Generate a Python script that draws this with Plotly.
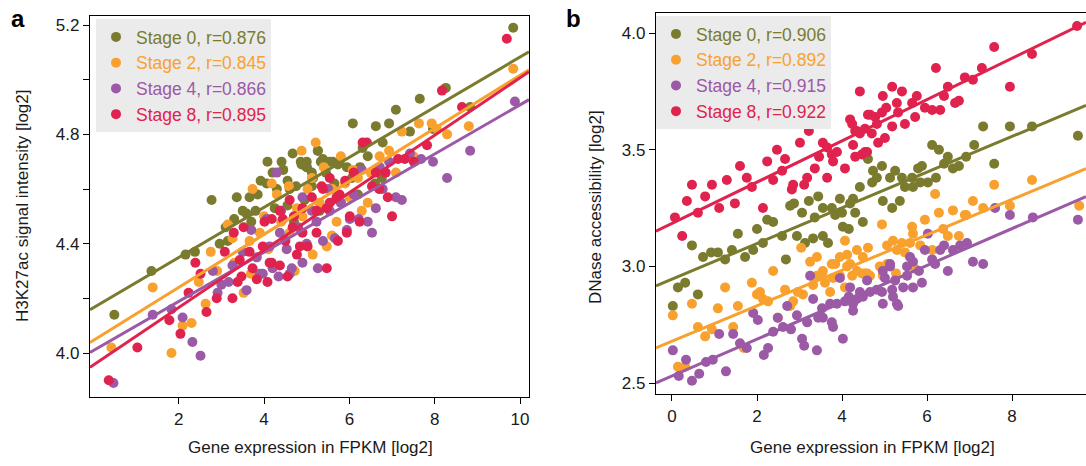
import plotly.graph_objects as go

# ---------------- data: panel a (H3K27ac vs expression) ----------------
a0_x = [0.49,1.36,2.16,2.38,2.77,3.10,3.36,3.50,3.66,3.80,3.92,4.08,4.41,4.20,4.55,4.67,4.86,5.00,5.26,5.33,5.54,5.73,4.25,4.55,5.00,4.60,4.06,3.59,2.96,3.15,
        8.26,7.65,7.09,6.08,6.62,6.93,7.42,7.96,8.83,9.84,5.26,5.38,5.61,5.77,5.94,6.31,6.43,6.78,5.12,5.00,6.06,6.76,5.12,4.88,5.30,5.80,6.20,4.70,6.60,
        3.30,3.85,4.30,4.45,4.75,5.15,5.45,5.65,6.25,3.70,4.95]
a0_y = [4.14,4.30,4.36,4.37,4.56,4.46,4.57,4.52,4.57,4.52,4.63,4.70,4.70,4.66,4.63,4.73,4.70,4.70,4.74,4.70,4.70,4.69,4.53,4.54,4.68,4.60,4.62,4.51,4.40,4.41,
        4.97,4.93,4.89,4.84,4.83,4.84,4.81,4.82,4.90,5.19,4.74,4.71,4.70,4.70,4.68,4.75,4.72,4.77,4.66,4.68,4.64,4.64,4.61,4.69,4.52,4.55,4.58,4.48,4.62,
        4.49,4.58,4.60,4.67,4.61,4.64,4.66,4.62,4.68,4.48,4.56]

a2_x = [0.42,1.39,1.83,2.09,2.30,2.63,2.47,3.52,3.69,5.14,4.72,9.84,8.80,8.29,7.93,7.63,7.23,6.93,6.71,7.09,6.43,6.29,6.08,5.80,5.21,4.88,5.59,5.12,
        3.73,4.18,3.15,2.75,3.26,3.66,5.47,5.70,4.77,4.30,5.02,4.58,5.40,5.60,5.90,6.20,6.50,4.00,4.40,3.90,4.60,4.90,5.30,6.00,6.70,3.30,2.90,4.10,7.50,8.05]
a2_y = [4.02,4.24,4.00,4.10,4.11,4.18,4.26,4.22,4.29,4.36,4.30,5.04,4.83,4.80,4.84,4.84,4.81,4.74,4.72,4.66,4.55,4.52,4.67,4.72,4.77,4.74,4.43,4.64,
        4.60,4.62,4.47,4.37,4.42,4.41,4.39,4.48,4.53,4.58,4.60,4.61,4.68,4.60,4.62,4.64,4.66,4.50,4.48,4.44,4.44,4.50,4.55,4.57,4.60,4.33,4.30,4.38,4.72,4.82]

a4_x = [0.47,1.39,1.83,2.09,2.32,2.51,2.91,3.00,3.17,3.59,3.90,4.20,4.34,4.65,4.90,5.26,3.26,2.80,
        9.88,8.83,8.29,7.96,7.68,7.42,7.23,7.09,6.78,6.71,6.93,6.62,6.53,6.43,6.22,6.01,5.94,6.29,
        4.30,4.90,5.12,5.54,5.23,4.37,4.53,4.13,3.83,4.06,4.60,3.97,5.38,5.66,3.50,4.80,5.00,5.80,6.10,3.70,4.40,5.50]
a4_y = [3.89,4.14,4.16,4.13,4.04,3.99,4.22,4.25,4.26,4.23,4.29,4.31,4.28,4.31,4.33,4.31,4.32,4.30,
        4.92,4.74,4.64,4.70,4.71,4.73,4.56,4.57,4.60,4.68,4.70,4.53,4.44,4.48,4.49,4.49,4.45,4.67,
        4.66,4.57,4.52,4.52,4.48,4.44,4.38,4.39,4.35,4.49,4.29,4.29,4.41,4.42,4.37,4.46,4.40,4.55,4.58,4.45,4.52,4.60]

a8_x = [0.36,1.03,1.78,2.04,2.23,2.39,2.51,2.65,2.89,3.26,3.38,3.47,3.83,4.08,4.13,4.37,4.55,4.77,5.47,3.08,3.73,
        3.29,3.52,3.66,3.97,4.01,4.18,4.44,4.37,4.60,4.67,4.90,5.02,4.84,5.23,5.38,5.54,5.47,5.70,4.18,3.43,
        9.69,8.17,8.64,7.82,7.51,7.30,7.14,6.85,6.62,6.41,6.31,6.53,6.70,7.00,6.24,5.94,5.77,5.54,5.35,5.12,4.90,6.01,5.23,5.73,
        5.90,6.10,4.50,4.70,6.90]
a8_y = [3.90,4.02,4.12,4.07,4.22,4.33,4.29,4.15,4.20,4.20,4.26,4.28,4.27,4.26,4.33,4.32,4.28,4.36,4.31,4.37,4.31,
        4.44,4.46,4.37,4.39,4.48,4.49,4.49,4.52,4.56,4.46,4.44,4.39,4.39,4.52,4.60,4.64,4.53,4.57,4.33,4.34,
        5.15,4.96,4.90,4.76,4.70,4.71,4.71,4.66,4.66,4.77,4.77,4.61,4.60,4.50,4.48,4.44,4.58,4.55,4.61,4.57,4.53,4.50,4.44,4.41,
        4.63,4.66,4.41,4.50,4.57]

# ---------------- data: panel b (DNase vs expression) ----------------
b0_x = [0.02,0.14,0.31,0.61,0.47,0.73,0.92,1.08,1.25,1.41,1.55,1.72,1.91,2.00,2.14,2.24,2.38,2.59,2.68,2.78,2.87,2.94,3.06,3.13,3.22,3.32,3.36,3.44,3.55,3.55,
        3.67,3.76,3.84,3.95,4.00,4.02,4.16,4.19,4.31,4.42,4.49,4.61,4.73,4.71,4.82,4.94,4.96,5.13,5.25,5.18,5.36,5.41,5.48,5.65,5.67,5.79,5.88,5.84,6.02,6.12,
        6.21,6.28,6.40,6.49,6.61,6.75,6.92,7.11,7.32,7.58,7.95,8.47,9.55,4.26]
b0_y = [2.83,2.91,2.93,2.88,3.09,3.04,3.06,3.06,3.03,3.07,3.14,3.04,3.07,3.16,3.10,3.20,3.19,3.13,3.03,3.26,3.27,3.13,3.23,3.10,3.28,3.12,3.21,3.30,3.25,3.13,
        3.10,3.25,3.22,3.29,3.23,3.17,3.16,3.27,3.23,3.34,3.19,3.46,3.41,3.36,3.38,3.43,3.28,3.38,3.41,3.25,3.28,3.38,3.34,3.38,3.34,3.42,3.43,3.36,3.36,3.52,
        3.38,3.50,3.44,3.47,3.42,3.43,3.47,3.52,3.60,3.44,3.60,3.60,3.56,3.29]

b2_x = [0.02,0.14,0.31,0.47,0.61,0.78,0.94,1.08,1.25,1.44,1.55,1.69,1.88,2.00,2.14,2.26,2.38,2.49,2.66,2.85,2.96,3.08,3.25,3.32,3.41,3.53,3.60,3.72,3.79,3.84,
        3.95,4.07,4.12,4.24,4.35,4.47,4.59,4.66,4.89,4.96,5.27,2.78,3.04,3.41,3.55,3.76,3.95,4.12,4.19,4.35,4.49,4.61,4.54,2.07,
        4.94,5.06,5.20,5.29,5.41,5.48,5.60,5.65,5.67,5.84,5.95,6.12,6.28,6.38,6.49,6.61,6.75,6.92,7.08,7.32,7.95,9.58,5.06,5.72,6.19,6.89,7.58,8.47,4.07]
b2_y = [2.79,2.57,2.57,2.84,2.74,2.70,2.73,2.82,2.91,2.74,2.83,2.65,2.93,2.88,2.86,2.85,2.98,2.78,2.90,2.85,2.89,2.88,3.02,2.92,2.96,2.97,2.93,2.89,2.95,3.01,
        2.96,2.91,3.00,2.96,2.98,2.97,2.97,2.96,3.00,2.96,2.97,2.83,3.08,3.04,2.98,3.01,3.04,3.05,3.01,3.07,3.04,3.08,2.97,2.89,
        3.18,3.09,3.11,3.07,3.10,3.06,3.10,3.17,3.14,3.09,3.20,3.07,3.23,3.16,3.13,3.24,3.13,3.22,3.28,3.25,3.26,3.26,3.01,2.99,3.31,3.22,3.35,3.37,3.11]

b4_x = [0.02,0.16,0.33,0.47,0.64,0.80,0.96,1.11,1.27,1.44,1.60,1.76,1.91,2.02,2.16,2.26,2.38,2.49,2.61,2.71,2.80,2.94,3.06,3.11,3.18,3.25,3.32,3.41,3.44,3.53,
        3.55,3.72,3.76,3.79,3.88,3.95,4.02,4.07,4.16,4.19,4.26,4.35,4.42,4.49,4.59,4.66,4.82,4.94,4.96,5.13,5.20,5.29,5.01,4.26,
        6.02,6.40,6.31,6.61,6.78,6.94,7.08,7.32,7.60,7.95,8.49,9.55,6.49,6.12,5.95,5.67,5.60,5.53,5.13,4.96,5.25,5.44,5.67,5.88,5.18,5.32,5.53,5.81,6.19]
b4_y = [2.64,2.53,2.60,2.51,2.54,2.59,2.60,2.71,2.55,2.71,2.67,2.65,2.80,2.77,2.62,2.65,2.72,2.78,2.74,2.83,2.73,2.79,2.69,2.66,2.76,2.96,2.86,2.64,2.78,2.82,
        2.78,2.84,2.76,2.74,2.84,2.95,2.69,2.85,2.87,2.91,2.84,2.86,2.89,2.87,2.94,2.89,2.90,2.89,2.84,3.00,2.87,2.84,2.95,2.81,
        3.14,3.09,3.07,3.07,3.09,3.10,3.02,3.01,3.25,3.22,3.21,3.20,2.98,3.03,3.07,3.02,3.04,3.00,3.01,2.98,2.94,2.91,2.91,2.93,2.90,2.83,2.96,2.98,3.01]

b8_x = [0.07,0.24,0.35,0.47,0.61,0.78,0.94,1.11,1.29,1.48,1.60,1.76,1.88,2.14,2.24,2.38,2.47,2.59,2.66,2.82,2.85,3.01,3.11,3.18,3.22,3.36,3.46,3.55,3.65,3.65,
        3.76,3.79,3.88,4.07,4.19,4.24,4.31,4.42,4.54,4.61,4.42,4.96,5.18,5.41,5.29,5.65,5.76,5.95,6.12,6.31,6.21,6.49,6.40,6.66,6.75,6.89,7.08,7.29,7.58,7.95,
        8.47,4.26,4.31,4.47,4.59,4.35,4.54,4.66,4.78,4.94,4.82,5.01,4.85,5.18,5.32,5.48,5.72,5.04,4.70,9.53]
b8_y = [3.21,3.13,3.28,3.35,3.23,3.30,3.35,3.25,3.37,3.27,3.43,3.38,3.34,3.25,3.45,3.37,3.50,3.41,3.46,3.33,3.35,3.53,3.35,3.38,3.58,3.42,3.47,3.53,3.51,3.38,
        3.48,3.45,3.49,3.42,3.63,3.61,3.58,3.57,3.49,3.65,3.75,3.73,3.77,3.75,3.70,3.70,3.73,3.68,3.67,3.67,3.85,3.77,3.73,3.70,3.71,3.81,3.80,3.85,3.94,3.77,
        3.91,3.52,3.47,3.48,3.49,3.58,3.59,3.65,3.64,3.66,3.61,3.55,3.53,3.60,3.66,3.61,3.64,3.68,3.57,4.03]

stage_names = ["Stage 0", "Stage 2", "Stage 4", "Stage 8"]
r_a = ["0.876", "0.845", "0.866", "0.895"]
r_b = ["0.906", "0.892", "0.915", "0.922"]
# regression lines: intercept at x=0 and slope
fit_a_intercept = [4.166, 4.046, 4.009, 3.956]
fit_a_slope = [0.0917, 0.0970, 0.0899, 0.1051]
fit_b_intercept = [2.945, 2.679, 2.530, 3.184]
fit_b_slope = [0.0765, 0.0760, 0.0790, 0.0885]

xrange_a = [-0.08, 10.21]
yrange_a = [3.839, 5.233]
xrange_b = [-0.376, 9.74]
yrange_b = [2.453, 4.086]

colors = ["#7a7b2e", "#f9a12e", "#9b59a6", "#e0234e"]

W, H = 1086, 466
FONT = "Arial, Liberation Sans, sans-serif"

fig = go.Figure()

panel_a = [(a0_x, a0_y), (a2_x, a2_y), (a4_x, a4_y), (a8_x, a8_y)]
panel_b = [(b0_x, b0_y), (b2_x, b2_y), (b4_x, b4_y), (b8_x, b8_y)]

for i, (xs, ys) in enumerate(panel_a):
    fig.add_trace(go.Scatter(
        x=xs, y=ys, mode="markers", xaxis="x", yaxis="y",
        marker=dict(size=10, color=colors[i], line=dict(width=0)),
        name=f'<span style="color:{colors[i]}">{stage_names[i]}, r={r_a[i]}</span>',
        legend="legend", showlegend=True))
for i in range(4):
    xe = xrange_a
    ye = [fit_a_intercept[i] + fit_a_slope[i] * v for v in xe]
    fig.add_trace(go.Scatter(x=xe, y=ye, mode="lines", xaxis="x", yaxis="y",
                             line=dict(color=colors[i], width=3), showlegend=False))

for i, (xs, ys) in enumerate(panel_b):
    fig.add_trace(go.Scatter(
        x=xs, y=ys, mode="markers", xaxis="x2", yaxis="y2",
        marker=dict(size=10, color=colors[i], line=dict(width=0)),
        name=f'<span style="color:{colors[i]}">{stage_names[i]}, r={r_b[i]}</span>',
        legend="legend2", showlegend=True))
for i in range(4):
    xe = xrange_b
    ye = [fit_b_intercept[i] + fit_b_slope[i] * v for v in xe]
    fig.add_trace(go.Scatter(x=xe, y=ye, mode="lines", xaxis="x2", yaxis="y2",
                             line=dict(color=colors[i], width=3), showlegend=False))

tickfont = dict(family=FONT, size=17, color="#1a1a1a")
axis_common = dict(showgrid=False, zeroline=False, showline=True, linecolor="black", linewidth=1.3,
                   ticks="outside", ticklen=6, tickwidth=1.3, tickcolor="black", tickfont=tickfont)

ya_vals = [4.0, 4.2, 4.4, 4.6, 4.8, 5.0, 5.2]
ya_text = ["4.0", "", "4.4", "", "4.8", "", "5.2"]

fig.update_layout(
    width=W, height=H, margin=dict(l=0, r=0, t=0, b=0),
    paper_bgcolor="white", plot_bgcolor="white",
    xaxis=dict(domain=[90 / W, 529 / W], range=xrange_a, anchor="y", mirror=True,
               tickvals=[2, 4, 6, 8, 10], **axis_common),
    yaxis=dict(domain=[(H - 397) / H, (H - 16) / H], range=yrange_a, anchor="x", mirror=True,
               tickvals=ya_vals, ticktext=ya_text, **axis_common),
    xaxis2=dict(domain=[656 / W, 1.0], range=xrange_b, anchor="y2", mirror=True,
                tickvals=[0, 2, 4, 6, 8], **axis_common),
    yaxis2=dict(domain=[(H - 394) / H, (H - 13) / H], range=yrange_b, anchor="x2", mirror=False,
                tickvals=[2.5, 3.0, 3.5, 4.0], ticktext=["2.5", "3.0", "3.5", "4.0"], **axis_common),
    legend=dict(x=96 / W, y=1 - 19 / H, xanchor="left", yanchor="top", bgcolor="#ebebeb",
                font=dict(family=FONT, size=17.5), borderwidth=0, tracegroupgap=0),
    legend2=dict(x=656 / W, y=1 - 16 / H, xanchor="left", yanchor="top", bgcolor="#ebebeb",
                 font=dict(family=FONT, size=17.5), borderwidth=0, tracegroupgap=0),
    showlegend=True,
)

ann_font = dict(family=FONT, size=17, color="#1a1a1a")
fig.add_annotation(text="Gene expression in FPKM [log2]", x=310 / W, y=1 - 447 / H, xref="paper", yref="paper",
                   showarrow=False, font=ann_font, xanchor="center", yanchor="middle")
fig.add_annotation(text="Gene expression in FPKM [log2]", x=872 / W, y=1 - 447 / H, xref="paper", yref="paper",
                   showarrow=False, font=ann_font, xanchor="center", yanchor="middle")
fig.add_annotation(text="H3K27ac signal intensity [log2]", x=22 / W, y=1 - 206 / H, xref="paper", yref="paper",
                   showarrow=False, font=ann_font, textangle=-90, xanchor="center", yanchor="middle")
fig.add_annotation(text="DNase accessibility [log2]", x=595 / W, y=1 - 207 / H, xref="paper", yref="paper",
                   showarrow=False, font=ann_font, textangle=-90, xanchor="center", yanchor="middle")
fig.add_annotation(text="<b>a</b>", x=18 / W, y=1 - 18 / H, xref="paper", yref="paper",
                   showarrow=False, font=dict(family=FONT, size=24, color="black"), xanchor="center", yanchor="middle")
fig.add_annotation(text="<b>b</b>", x=573 / W, y=1 - 18 / H, xref="paper", yref="paper",
                   showarrow=False, font=dict(family=FONT, size=24, color="black"), xanchor="center", yanchor="middle")

fig.write_html("out.html")
